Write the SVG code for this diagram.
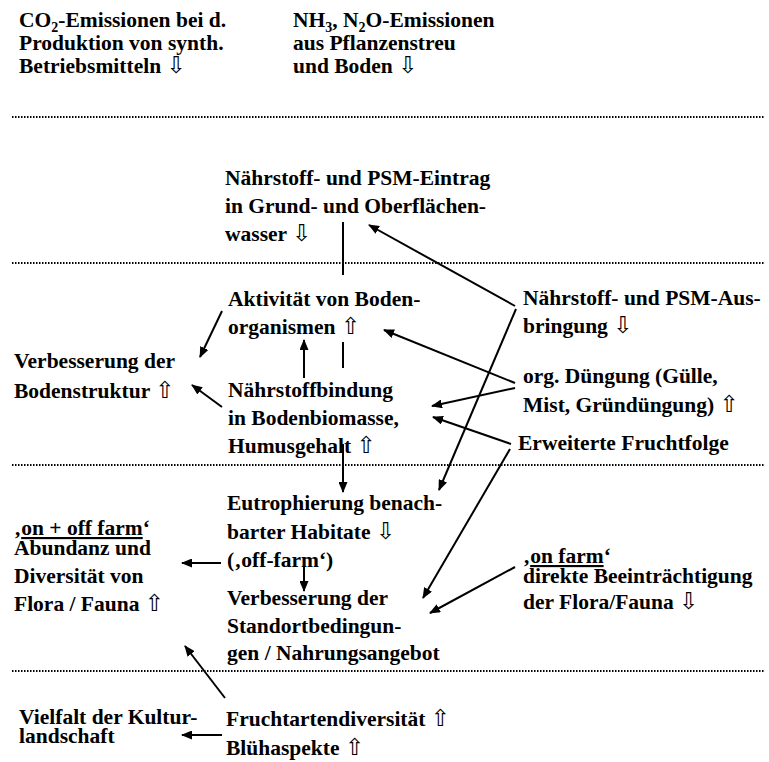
<svg xmlns="http://www.w3.org/2000/svg" width="769" height="762" viewBox="0 0 769 762">
  <style>
    text { font-family: "Liberation Serif", "Times New Roman", serif; font-weight: bold; font-size: 21.5px; fill: #000; }
    .sym { font-family: "DejaVu Sans", sans-serif; font-weight: normal; font-size: 23px; }
    .sub { font-size: 14px; }
    .u { text-decoration: underline; }
    .sep { stroke: #000; stroke-width: 1.8; stroke-dasharray: 1.5 1.5; fill: none; }
    .con { stroke: #000; stroke-width: 2; fill: none; }
    .arr { stroke: #000; stroke-width: 2; fill: none; marker-end: url(#head); }
  </style>
  <defs>
    <marker id="head" markerUnits="userSpaceOnUse" markerWidth="11" markerHeight="9" refX="10" refY="4.5" orient="auto">
      <path d="M0,0 L11,4.5 L0,9 z" fill="#000"/>
    </marker>
  </defs>

  <rect width="769" height="762" fill="#fff"/>

  <!-- dotted level separators -->
  <g id="separators">
    <line class="sep" x1="12" y1="117" x2="765" y2="117"/>
    <line class="sep" x1="12" y1="263" x2="765" y2="263"/>
    <line class="sep" x1="12" y1="465" x2="765" y2="465"/>
    <line class="sep" x1="12" y1="671" x2="765" y2="671"/>
  </g>

  <g id="co2">
    <text><tspan x="19" y="27">CO</tspan><tspan class="sub" dy="5">2</tspan><tspan dy="-5">-Emissionen bei d.</tspan><tspan x="19" y="50">Produktion von synth.</tspan><tspan x="19" y="73">Betriebsmitteln </tspan><tspan class="sym">⇩</tspan></text>
  </g>

  <g id="nh3">
    <text><tspan x="293" y="27">NH</tspan><tspan class="sub" dy="5">3</tspan><tspan dy="-5">, N</tspan><tspan class="sub" dy="5">2</tspan><tspan dy="-5">O-Emissionen</tspan><tspan x="293" y="50">aus Pflanzenstreu</tspan><tspan x="293" y="73">und Boden </tspan><tspan class="sym">⇩</tspan></text>
  </g>

  <g id="eintrag">
    <text><tspan x="225" y="185">Nährstoff- und PSM-Eintrag</tspan><tspan x="225" y="213">in Grund- und Oberflächen-</tspan><tspan x="225" y="241">wasser </tspan><tspan class="sym">⇩</tspan></text>
  </g>

  <g id="aktivitaet">
    <text><tspan x="228" y="306">Aktivität von Boden-</tspan><tspan x="228" y="334">organismen </tspan><tspan class="sym">⇧</tspan></text>
  </g>

  <g id="ausbringung">
    <text><tspan x="523" y="305">Nährstoff- und PSM-Aus-</tspan><tspan x="523" y="333">bringung </tspan><tspan class="sym">⇩</tspan></text>
  </g>

  <g id="bodenstruktur">
    <text><tspan x="14" y="368">Verbesserung der</tspan><tspan x="14" y="398">Bodenstruktur </tspan><tspan class="sym">⇧</tspan></text>
  </g>

  <g id="naehrstoffbindung">
    <text><tspan x="228" y="397">Nährstoffbindung</tspan><tspan x="228" y="425">in Bodenbiomasse,</tspan><tspan x="228" y="453">Humusgehalt </tspan><tspan class="sym">⇧</tspan></text>
  </g>

  <g id="duengung">
    <text><tspan x="523" y="383">org. Düngung (Gülle,</tspan><tspan x="523" y="412">Mist, Gründüngung) </tspan><tspan class="sym">⇧</tspan></text>
  </g>

  <g id="fruchtfolge">
    <text x="518" y="450">Erweiterte Fruchtfolge</text>
  </g>

  <g id="eutrophierung">
    <text><tspan x="227" y="510">Eutrophierung benach-</tspan><tspan x="227" y="539">barter Habitate </tspan><tspan class="sym">⇩</tspan><tspan x="227" y="567">(‚off-farm‘)</tspan></text>
  </g>

  <g id="flora-fauna">
    <text><tspan x="14" y="535">‚</tspan><tspan class="u">on + off farm</tspan><tspan>‘</tspan><tspan x="14" y="555">Abundanz und</tspan><tspan x="14" y="583">Diversität von</tspan><tspan x="14" y="611">Flora / Fauna </tspan><tspan class="sym">⇧</tspan></text>
  </g>

  <g id="on-farm">
    <text><tspan x="523" y="563">‚</tspan><tspan class="u">on farm</tspan><tspan>‘</tspan><tspan x="523" y="583">direkte Beeinträchtigung</tspan><tspan x="523" y="609">der Flora/Fauna </tspan><tspan class="sym">⇩</tspan></text>
  </g>

  <g id="standort">
    <text><tspan x="227" y="605">Verbesserung der</tspan><tspan x="227" y="633">Standortbedingun-</tspan><tspan x="227" y="660">gen / Nahrungsangebot</tspan></text>
  </g>

  <g id="kulturlandschaft">
    <text><tspan x="19" y="724">Vielfalt der Kultur-</tspan><tspan x="19" y="743">landschaft</tspan></text>
  </g>

  <g id="fruchtarten">
    <text><tspan x="226" y="726">Fruchtartendiversität </tspan><tspan class="sym">⇧</tspan><tspan x="226" y="755">Blühaspekte </tspan><tspan class="sym">⇧</tspan></text>
  </g>

  <g id="connectors">
    <!-- plain link from the biomass block up to the water-input block -->
    <line class="con" x1="343" y1="222" x2="343" y2="275"/>
    <line class="con" x1="343" y1="342" x2="343" y2="368"/>

    <line class="arr" x1="515" y1="306" x2="369" y2="225"/>
    <line class="arr" x1="516" y1="309" x2="439" y2="490"/>
    <line class="arr" x1="515" y1="383" x2="384" y2="330"/>
    <line class="arr" x1="515" y1="388" x2="432" y2="406"/>
    <line class="arr" x1="511" y1="444" x2="433" y2="417"/>
    <line class="arr" x1="510" y1="449" x2="423" y2="598"/>
    <line class="arr" x1="515" y1="567" x2="430" y2="613"/>
    <line class="arr" x1="222" y1="311" x2="200" y2="357"/>
    <line class="arr" x1="222" y1="407" x2="192" y2="385"/>
    <line class="arr" x1="304" y1="378" x2="304" y2="340"/>
    <line class="arr" x1="343" y1="444" x2="343" y2="492"/>
    <line class="arr" x1="304" y1="566" x2="304" y2="591"/>
    <line class="arr" x1="221" y1="563" x2="182" y2="563"/>
    <line class="arr" x1="225" y1="698" x2="185" y2="646"/>
    <line class="arr" x1="222" y1="735" x2="182" y2="735"/>
  </g>
</svg>
